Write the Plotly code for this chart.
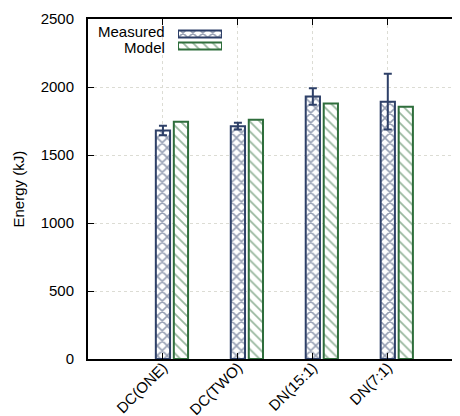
import plotly.graph_objects as go

categories = ["DC(ONE)", "DC(TWO)", "DN(15:1)", "DN(7:1)"]
measured = [1680, 1712, 1930, 1892]
measured_err = [35, 25, 60, 205]
model = [1745, 1760, 1878, 1855]
legend_labels = ["Model", "Measured"]

NAVY = "#2e4068"
GREEN = "#2f6e3c"
FONT = "Liberation Sans, Arial, sans-serif"
GRID = "#dcdcd4"

xpos = list(range(len(categories)))

meas_pattern = dict(shape="x", fgcolor=NAVY, bgcolor="white", size=7, solidity=0.4)
model_pattern = dict(shape="\\", fgcolor=GREEN, bgcolor="white", size=7, solidity=0.25)

fig = go.Figure()
fig.add_trace(go.Bar(
    x=xpos, y=measured, width=0.19, offset=-0.095,
    marker=dict(color="white", line=dict(color=NAVY, width=2), pattern=meas_pattern),
    error_y=dict(type="data", array=measured_err, color=NAVY, thickness=2, width=4),
    showlegend=False,
))
fig.add_trace(go.Bar(
    x=xpos, y=model, width=0.19, offset=0.145,
    marker=dict(color="white", line=dict(color=GREEN, width=2), pattern=model_pattern),
    showlegend=False,
))

# key swatches drawn on a small inset axis
fig.add_trace(go.Bar(
    x=[1], y=[legend_labels[1]], orientation="h", width=0.6,
    marker=dict(color="white", line=dict(color=NAVY, width=2), pattern=meas_pattern),
    xaxis="x2", yaxis="y2", showlegend=False, hoverinfo="skip",
))
fig.add_trace(go.Bar(
    x=[1], y=[legend_labels[0]], orientation="h", width=0.6,
    marker=dict(color="white", line=dict(color=GREEN, width=2), pattern=model_pattern),
    xaxis="x2", yaxis="y2", showlegend=False, hoverinfo="skip",
))

axis_common = dict(showline=True, linecolor="black", linewidth=2,
                   mirror="allticks", ticks="inside", ticklen=6, tickcolor="black",
                   showgrid=True, gridcolor=GRID, griddash="dot", gridwidth=1,
                   zeroline=False, tickfont=dict(size=15), automargin=False)

fig.update_layout(
    width=460, height=416,
    margin=dict(l=80, r=9, t=11, b=65),
    paper_bgcolor="white", plot_bgcolor="white",
    barmode="overlay",
    font=dict(family=FONT, size=14, color="black"),
    showlegend=False,
    xaxis=dict(range=[-1, 3.95], tickvals=xpos, ticktext=categories,
               tickangle=-45, ticklabelstandoff=-8, **axis_common),
    yaxis=dict(range=[0, 2500], dtick=500, ticklabelstandoff=9, **axis_common),
    xaxis2=dict(domain=[0.2426, 0.3612], range=[0, 1], anchor="y2",
                showline=False, showgrid=False, zeroline=False, showticklabels=False,
                ticks=""),
    yaxis2=dict(domain=[0.903, 0.9735], range=[-0.5, 1.5], anchor="x2",
                categoryorder="array", categoryarray=legend_labels,
                showline=False, showgrid=False, zeroline=False, ticks="",
                showticklabels=False, automargin=False),
    annotations=[
        dict(text="Energy (kJ)", textangle=-90, x=-0.19, y=0.5, xref="paper", yref="paper",
             xanchor="center", yanchor="middle", showarrow=False, font=dict(size=15)),
        dict(text=legend_labels[1], x=0.213, y=0.9626, xref="paper", yref="paper",
             xanchor="right", yanchor="middle", showarrow=False, font=dict(size=15)),
        dict(text=legend_labels[0], x=0.213, y=0.916, xref="paper", yref="paper",
             xanchor="right", yanchor="middle", showarrow=False, font=dict(size=15)),
    ],
)

fig.write_html("out.html")
